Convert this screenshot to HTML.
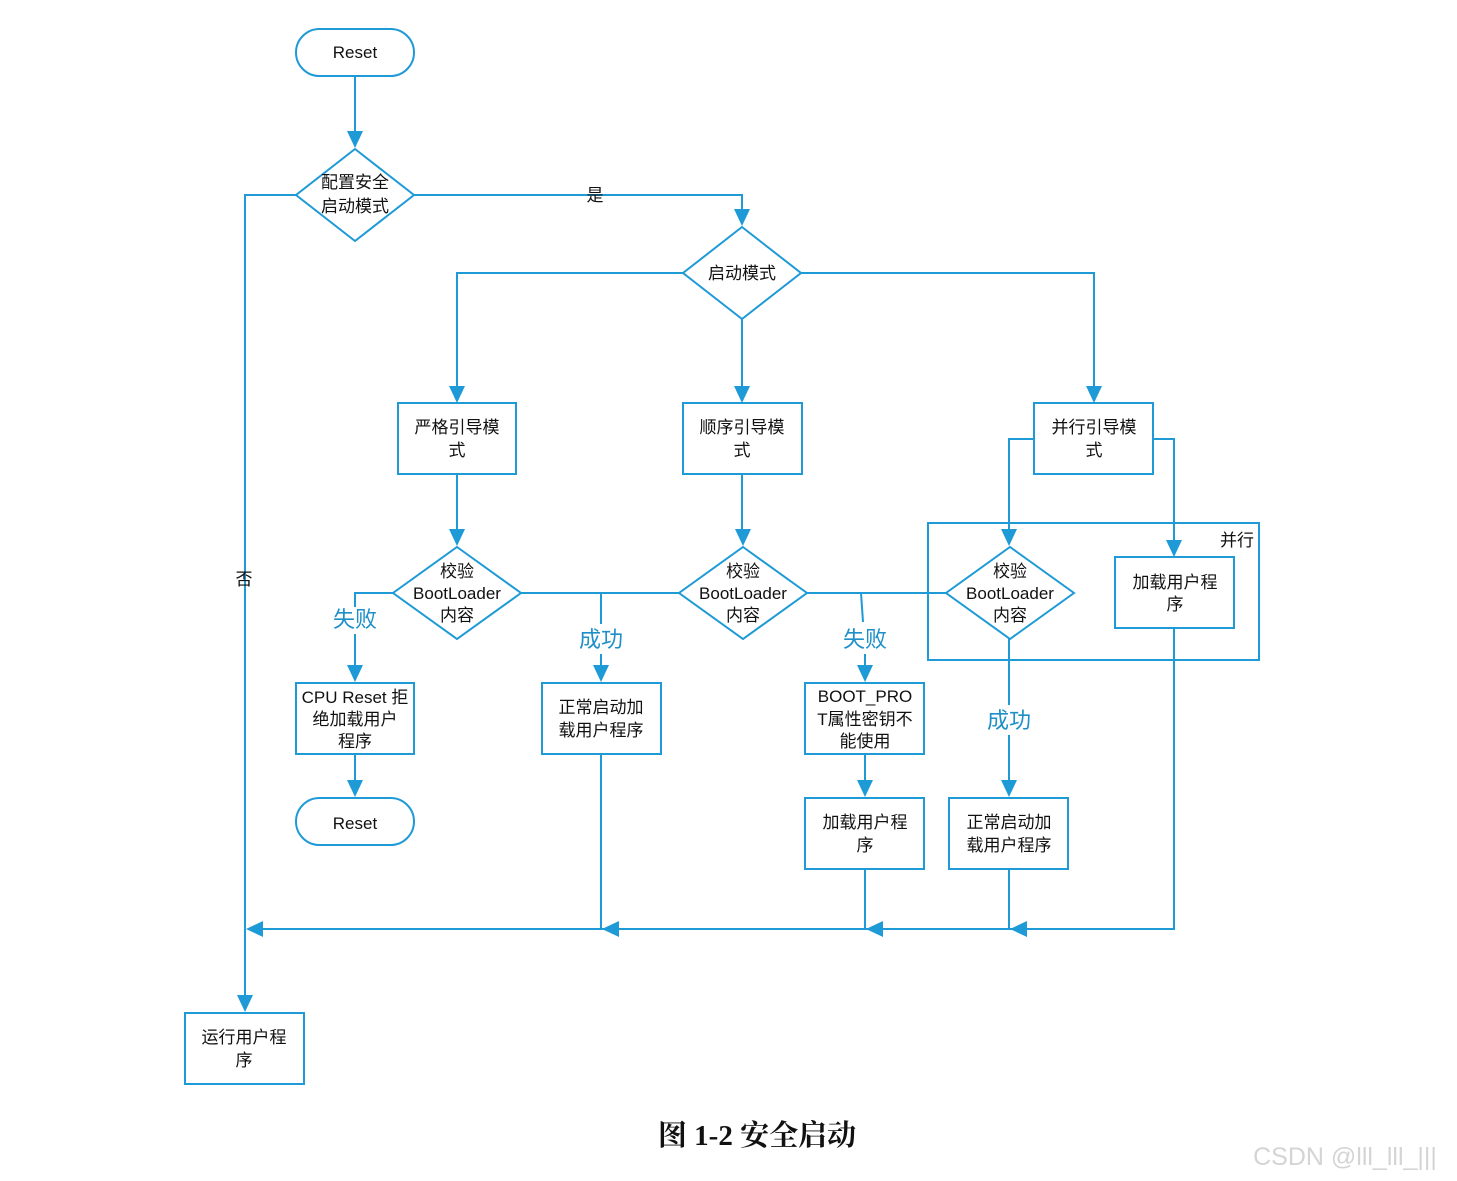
<!DOCTYPE html>
<html><head><meta charset="utf-8"><style>
html,body{margin:0;padding:0;background:#fff;}
svg{display:block;}
text{font-family:"Liberation Sans","Noto Sans CJK SC",sans-serif;fill:#111;}
</style></head><body>
<svg width="1457" height="1181" viewBox="0 0 1457 1181" xmlns="http://www.w3.org/2000/svg">
<g fill="none" stroke="#1e9ad6" stroke-width="2">
<!-- shapes -->
<rect x="296" y="29" width="118" height="47" rx="23.5"/>
<polygon points="355,149 414,195 355,241 296,195"/>
<polygon points="742,227 801,273 742,319 683,273"/>
<rect x="398" y="403" width="118" height="71"/>
<rect x="683" y="403" width="119" height="71"/>
<rect x="1034" y="403" width="119" height="71"/>
<polygon points="457,547 521,593 457,639 393,593"/>
<polygon points="743,547 807,593 743,639 679,593"/>
<polygon points="1010,547 1074,593 1010,639 946,593"/>
<rect x="928" y="523" width="331" height="137"/>
<rect x="1115" y="557" width="119" height="71"/>
<rect x="296" y="683" width="118" height="71"/>
<rect x="542" y="683" width="119" height="71"/>
<rect x="805" y="683" width="119" height="71"/>
<rect x="296" y="798" width="118" height="47" rx="23.5"/>
<rect x="805" y="798" width="119" height="71"/>
<rect x="949" y="798" width="119" height="71"/>
<rect x="185" y="1013" width="119" height="71"/>
<!-- connectors -->
<path d="M355,76 V140"/>
<path d="M296,195 H245 V1004"/>
<path d="M414,195 H742 V218"/>
<path d="M683,273 H457 V395"/>
<path d="M801,273 H1094 V395"/>
<path d="M742,319 V395"/>
<path d="M457,474 V538"/>
<path d="M742,474 V538"/>
<path d="M1034,439 H1009 V538"/>
<path d="M1153,439 H1174 V549"/>
<path d="M393,593 H355 V607"/>
<path d="M355,634 V674"/>
<path d="M521,593 H679"/>
<path d="M601,593 V624"/>
<path d="M601,654 V674"/>
<path d="M807,593 H946"/>
<path d="M861,593 L863,622"/>
<path d="M865,654 V674"/>
<path d="M355,754 V789"/>
<path d="M865,754 V789"/>
<path d="M1009,639 V705"/>
<path d="M1009,735 V789"/>
<path d="M601,754 V929"/>
<path d="M865,869 V929"/>
<path d="M1009,869 V929"/>
<path d="M1174,628 V929 H250"/>
</g>
<g fill="#1e9ad6">
<polygon points="347,131 363,131 355,148"/>
<polygon points="734,209 750,209 742,226"/>
<polygon points="449,386 465,386 457,403"/>
<polygon points="734,386 750,386 742,403"/>
<polygon points="1086,386 1102,386 1094,403"/>
<polygon points="449,529 465,529 457,546"/>
<polygon points="735,529 751,529 743,546"/>
<polygon points="1001,529 1017,529 1009,546"/>
<polygon points="1166,540 1182,540 1174,557"/>
<polygon points="347,665 363,665 355,682"/>
<polygon points="593,665 609,665 601,682"/>
<polygon points="857,665 873,665 865,682"/>
<polygon points="347,780 363,780 355,797"/>
<polygon points="857,780 873,780 865,797"/>
<polygon points="1001,780 1017,780 1009,797"/>
<polygon points="237,995 253,995 245,1012"/>
<polygon points="246,929 263,921 263,937"/>
<polygon points="602,929 619,921 619,937"/>
<polygon points="866,929 883,921 883,937"/>
<polygon points="1010,929 1027,921 1027,937"/>
</g>
<g font-size="17" text-anchor="middle">
<text x="355" y="58">Reset</text>
<text x="355" y="188">配置安全</text>
<text x="355" y="212">启动模式</text>
<text x="595" y="201">是</text>
<text x="244" y="585">否</text>
<text x="742" y="279">启动模式</text>
<text x="457" y="433">严格引导模</text>
<text x="457" y="456">式</text>
<text x="742" y="433">顺序引导模</text>
<text x="742" y="456">式</text>
<text x="1094" y="433">并行引导模</text>
<text x="1094" y="456">式</text>
<text x="457" y="577">校验</text>
<text x="457" y="599">BootLoader</text>
<text x="457" y="621">内容</text>
<text x="743" y="577">校验</text>
<text x="743" y="599">BootLoader</text>
<text x="743" y="621">内容</text>
<text x="1010" y="577">校验</text>
<text x="1010" y="599">BootLoader</text>
<text x="1010" y="621">内容</text>
<text x="1237" y="546">并行</text>
<text x="1175" y="588">加载用户程</text>
<text x="1175" y="610">序</text>
<text x="355" y="703">CPU Reset 拒</text>
<text x="355" y="725">绝加载用户</text>
<text x="355" y="747">程序</text>
<text x="601" y="713" fill="#333">正常启动加</text>
<text x="601" y="736" fill="#333">载用户程序</text>
<text x="865" y="702" font-family="Liberation Serif,serif">BOOT_PRO</text>
<text x="865" y="725">T属性密钥不</text>
<text x="865" y="747">能使用</text>
<text x="355" y="829">Reset</text>
<text x="865" y="828">加载用户程</text>
<text x="865" y="851">序</text>
<text x="1009" y="828" fill="#333">正常启动加</text>
<text x="1009" y="851" fill="#333">载用户程序</text>
<text x="244" y="1043">运行用户程</text>
<text x="244" y="1066">序</text>
</g>
<g font-size="22" text-anchor="middle" style="fill:#1e8fc8">
<text x="355" y="627" style="fill:#1e8fc8">失败</text>
<text x="601" y="647" style="fill:#1e8fc8">成功</text>
<text x="865" y="647" style="fill:#1e8fc8">失败</text>
<text x="1009" y="728" style="fill:#1e8fc8">成功</text>
</g>
<text x="757" y="1145" font-size="29" font-weight="bold" text-anchor="middle" style="font-family:'Liberation Serif','Noto Serif CJK SC',serif">图 1-2 安全启动</text>
<text x="1345" y="1165" font-size="25" text-anchor="middle" style="fill:#d4d4d4">CSDN @lll_lll_|||</text>
</svg>
</body></html>
